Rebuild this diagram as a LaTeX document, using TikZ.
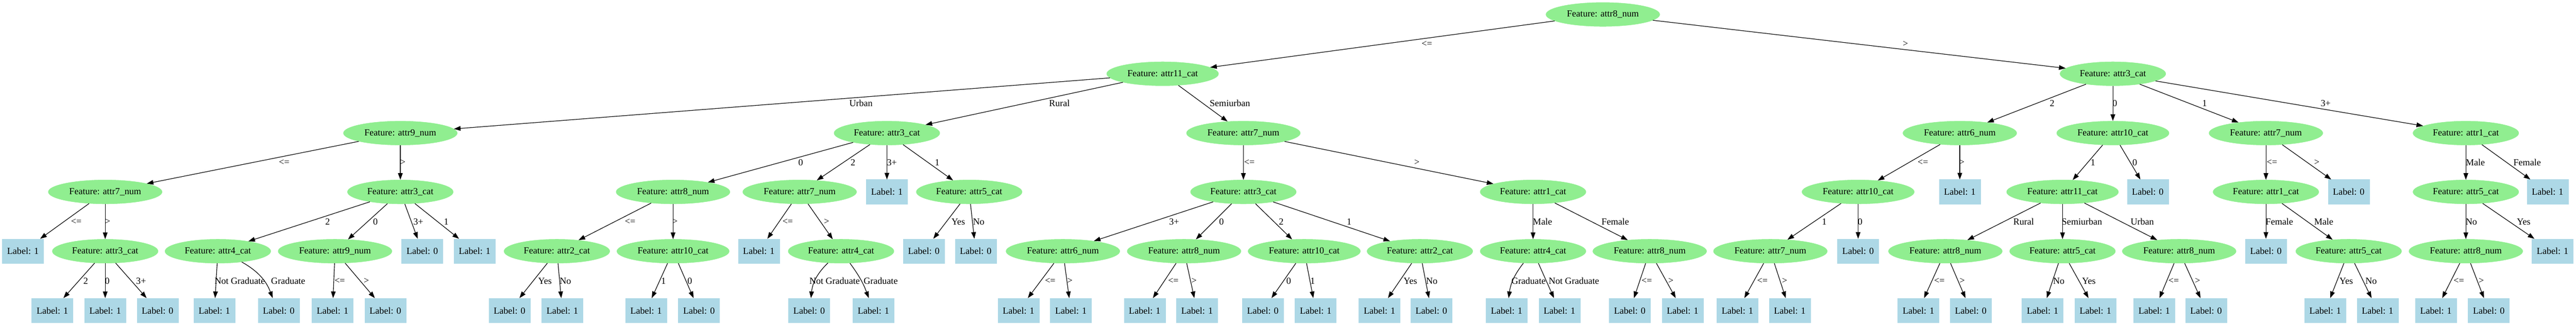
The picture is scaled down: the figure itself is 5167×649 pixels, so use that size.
\documentclass[tikz,border=0pt]{standalone}
\usepackage{fontspec}
\setmainfont{Liberation Serif}
\usetikzlibrary{shapes.geometric,arrows.meta}
\definecolor{lgreen}{HTML}{90EE90}
\definecolor{lblue}{HTML}{ADD8E6}
\newcommand\tedge[5]{\draw[edge] (#1) -- (#2); \node[elab] (#1l#2) at (#4,#5) {#3};}
\newcommand\tedgeb[6]{\draw[edge] (#2) to[#1] (#3); \node[elab] (#2l#3) at (#5,#6) {#4};}
\begin{document}
\begin{tikzpicture}[x=0.75pt,y=-0.75pt,
  every node/.style={font=\fontsize{14pt}{16pt}\selectfont},
  feat/.style={ellipse, fill=lgreen, draw=lgreen, minimum height=36pt, inner xsep=6.5pt, inner ysep=0pt},
  leaf/.style={rectangle, fill=lblue, draw=lblue, minimum width=62pt, minimum height=37pt, inner sep=0pt},
  edge/.style={-{Triangle[length=10pt,width=7pt]}, line width=0.9pt, black},
  elab/.style={inner sep=0pt}]
\useasboundingbox (0,0) rectangle (5167,649);
% level 0
\node[feat] (r) at (3215,29) {Feature: attr8\_num};
% level 1
\node[feat] (a) at (2332,148) {Feature: attr11\_cat};
\node[feat] (b) at (4238,148) {Feature: attr3\_cat};
% level 2
\node[feat] (a1) at (803,267) {Feature: attr9\_num};
\node[feat] (a2) at (1779,267) {Feature: attr3\_cat};
\node[feat] (a3) at (2494,267) {Feature: attr7\_num};
\node[feat] (b1) at (3931,267) {Feature: attr6\_num};
\node[feat] (b2) at (4238,267) {Feature: attr10\_cat};
\node[feat] (b3) at (4545,267) {Feature: attr7\_num};
\node[feat] (b4) at (4946,267) {Feature: attr1\_cat};
% level 3
\node[feat] (a11) at (211,385) {Feature: attr7\_num};
\node[feat] (a12) at (803,385) {Feature: attr3\_cat};
\node[feat] (a21) at (1350,385) {Feature: attr8\_num};
\node[feat] (a22) at (1604,385) {Feature: attr7\_num};
\node[leaf] (a23) at (1779,385) {Label: 1};
\node[feat] (a24) at (1944,385) {Feature: attr5\_cat};
\node[feat] (a31) at (2494,385) {Feature: attr3\_cat};
\node[feat] (a32) at (3075,385) {Feature: attr1\_cat};
\node[feat] (b11) at (3727,385) {Feature: attr10\_cat};
\node[leaf] (b12) at (3931,385) {Label: 1};
\node[feat] (b21) at (4137,385) {Feature: attr11\_cat};
\node[leaf] (b22) at (4308,385) {Label: 0};
\node[feat] (b31) at (4545,385) {Feature: attr1\_cat};
\node[leaf] (b32) at (4711,385) {Label: 0};
\node[feat] (b41) at (4946,385) {Feature: attr5\_cat};
\node[leaf] (b42) at (5110,385) {Label: 1};
% level 4
\node[leaf] (a111) at (46,504) {Label: 1};
\node[feat] (a112) at (211,504) {Feature: attr3\_cat};
\node[feat] (a121) at (437,504) {Feature: attr4\_cat};
\node[feat] (a122) at (672,504) {Feature: attr9\_num};
\node[leaf] (a123) at (847,504) {Label: 0};
\node[leaf] (a124) at (952,504) {Label: 1};
\node[feat] (a211) at (1117,504) {Feature: attr2\_cat};
\node[feat] (a212) at (1350,504) {Feature: attr10\_cat};
\node[leaf] (a221) at (1522,504) {Label: 1};
\node[feat] (a222) at (1687,504) {Feature: attr4\_cat};
\node[leaf] (a241) at (1853,504) {Label: 0};
\node[leaf] (a242) at (1957,504) {Label: 0};
\node[feat] (a311) at (2132,504) {Feature: attr6\_num};
\node[feat] (a312) at (2375,504) {Feature: attr8\_num};
\node[feat] (a313) at (2616,504) {Feature: attr10\_cat};
\node[feat] (a314) at (2848,504) {Feature: attr2\_cat};
\node[feat] (a321) at (3075,504) {Feature: attr4\_cat};
\node[feat] (a322) at (3309,504) {Feature: attr8\_num};
\node[feat] (b111) at (3551,504) {Feature: attr7\_num};
\node[leaf] (b112) at (3727,504) {Label: 0};
\node[feat] (b211) at (3902,504) {Feature: attr8\_num};
\node[feat] (b212) at (4137,504) {Feature: attr5\_cat};
\node[feat] (b213) at (4371,504) {Feature: attr8\_num};
\node[leaf] (b311) at (4545,504) {Label: 0};
\node[feat] (b312) at (4711,504) {Feature: attr5\_cat};
\node[feat] (b411) at (4946,504) {Feature: attr8\_num};
\node[leaf] (b412) at (5120,504) {Label: 1};
% level 5
\node[leaf] (a1121) at (105,623) {Label: 1};
\node[leaf] (a1122) at (211,623) {Label: 1};
\node[leaf] (a1123) at (316,623) {Label: 0};
\node[leaf] (a1211) at (430,623) {Label: 1};
\node[leaf] (a1212) at (559,623) {Label: 0};
\node[leaf] (a1221) at (667,623) {Label: 1};
\node[leaf] (a1222) at (773,623) {Label: 0};
\node[leaf] (a2111) at (1022,623) {Label: 0};
\node[leaf] (a2112) at (1128,623) {Label: 1};
\node[leaf] (a2121) at (1296,623) {Label: 1};
\node[leaf] (a2122) at (1402,623) {Label: 0};
\node[leaf] (a2221) at (1623,623) {Label: 0};
\node[leaf] (a2222) at (1752,623) {Label: 1};
\node[leaf] (a3111) at (2043,623) {Label: 1};
\node[leaf] (a3112) at (2148,623) {Label: 1};
\node[leaf] (a3121) at (2296,623) {Label: 1};
\node[leaf] (a3122) at (2401,623) {Label: 1};
\node[leaf] (a3131) at (2533,623) {Label: 0};
\node[leaf] (a3132) at (2639,623) {Label: 1};
\node[leaf] (a3141) at (2767,623) {Label: 1};
\node[leaf] (a3142) at (2871,623) {Label: 0};
\node[leaf] (a3211) at (3022,623) {Label: 1};
\node[leaf] (a3212) at (3128,623) {Label: 1};
\node[leaf] (a3221) at (3269,623) {Label: 0};
\node[leaf] (a3222) at (3375,623) {Label: 1};
\node[leaf] (b1111) at (3485,623) {Label: 1};
\node[leaf] (b1112) at (3590,623) {Label: 1};
\node[leaf] (b2111) at (3848,623) {Label: 1};
\node[leaf] (b2112) at (3953,623) {Label: 0};
\node[leaf] (b2121) at (4097,623) {Label: 1};
\node[leaf] (b2122) at (4203,623) {Label: 1};
\node[leaf] (b2131) at (4321,623) {Label: 1};
\node[leaf] (b2132) at (4425,623) {Label: 0};
\node[leaf] (b3121) at (4664,623) {Label: 1};
\node[leaf] (b3122) at (4769,623) {Label: 1};
\node[leaf] (b4111) at (4886,623) {Label: 1};
\node[leaf] (b4112) at (4992,623) {Label: 0};
% edges level 0-1
\tedge{r}{a}{<=}{2862}{88.5}
\tedge{r}{b}{>}{3822}{88.5}
% level 1-2
\tedge{a}{a1}{Urban}{1727}{207.5}
\tedge{a}{a2}{Rural}{2125}{207.5}
\tedge{a}{a3}{Semiurban}{2467}{207.5}
\tedge{b}{b1}{2}{4116}{207.5}
\tedge{b}{b2}{0}{4242}{207.5}
\tedge{b}{b3}{1}{4422}{207.5}
\tedge{b}{b4}{3+}{4665}{207.5}
% level 2-3
\tedge{a1}{a11}{<=}{570}{326}
\tedge{a1}{a12}{>}{808}{326}
\tedge{a2}{a21}{0}{1606}{326}
\tedge{a2}{a22}{2}{1711}{326}
\tedge{a2}{a23}{3+}{1789}{326}
\tedge{a2}{a24}{1}{1880}{326}
\tedge{a3}{a31}{<=}{2506}{326}
\tedge{a3}{a32}{>}{2842}{326}
\tedge{b1}{b11}{<=}{3857}{326}
\tedge{b1}{b12}{>}{3935}{326}
\tedge{b2}{b21}{1}{4198}{326}
\tedge{b2}{b22}{0}{4282}{326}
\tedge{b3}{b31}{<=}{4557}{326}
\tedge{b3}{b32}{>}{4647}{326}
\tedge{b4}{b41}{Male}{4965}{326}
\tedge{b4}{b42}{Female}{5069}{326}
% level 3-4
\tedge{a11}{a111}{<=}{153}{445}
\tedge{a11}{a112}{>}{216}{445}
\tedge{a12}{a121}{2}{657}{445}
\tedge{a12}{a122}{0}{753}{445}
\tedge{a12}{a123}{3+}{839}{445}
\tedge{a12}{a124}{1}{895}{445}
\tedge{a21}{a211}{<=}{1264}{445}
\tedge{a21}{a212}{>}{1354}{445}
\tedge{a22}{a221}{<=}{1580}{445}
\tedge{a22}{a222}{>}{1658}{445}
\tedge{a24}{a241}{Yes}{1922}{445}
\tedge{a24}{a242}{No}{1963}{445}
\tedge{a31}{a311}{3+}{2355}{445}
\tedge{a31}{a312}{0}{2450}{445}
\tedge{a31}{a313}{2}{2570}{445}
\tedge{a31}{a314}{1}{2706}{445}
\tedge{a32}{a321}{Male}{3094}{445}
\tedge{a32}{a322}{Female}{3240}{445}
\tedge{b11}{b111}{1}{3659}{445}
\tedge{b11}{b112}{0}{3731}{445}
\tedge{b21}{b211}{Rural}{4059}{445}
\tedge{b21}{b212}{Semiurban}{4176}{445}
\tedge{b21}{b213}{Urban}{4297}{445}
\tedge{b31}{b311}{Female}{4572}{445}
\tedge{b31}{b312}{Male}{4661}{445}
\tedge{b41}{b411}{No}{4957}{445}
\tedge{b41}{b412}{Yes}{5062}{445}
% level 4-5
\tedge{a112}{a1121}{2}{172}{564}
\tedge{a112}{a1122}{0}{215}{564}
\tedge{a112}{a1123}{3+}{283}{564}
\tedge{a121}{a1211}{Not Graduate}{481}{564}
\tedgeb{bend left=20}{a121}{a1212}{Graduate}{578}{564}
\tedge{a122}{a1221}{<=}{681.5}{564}
\tedge{a122}{a1222}{>}{735}{564}
\tedge{a211}{a2111}{Yes}{1093}{564}
\tedge{a211}{a2112}{No}{1134}{564}
\tedge{a212}{a2121}{1}{1331}{564}
\tedge{a212}{a2122}{0}{1383.5}{564}
\tedgeb{bend right=20}{a222}{a2221}{Not Graduate}{1674}{564}
\tedgeb{bend left=8}{a222}{a2222}{Graduate}{1766.5}{564}
\tedge{a311}{a3111}{<=}{2106.5}{564}
\tedge{a311}{a3112}{>}{2146}{564}
\tedge{a312}{a3121}{<=}{2353.5}{564}
\tedge{a312}{a3122}{>}{2395}{564}
\tedge{a313}{a3131}{0}{2585}{564}
\tedge{a313}{a3132}{1}{2633}{564}
\tedge{a314}{a3141}{Yes}{2829}{564}
\tedge{a314}{a3142}{No}{2872}{564}
\tedgeb{bend right=15}{a321}{a3211}{Graduate}{3066}{564}
\tedge{a321}{a3212}{Not Graduate}{3157}{564}
\tedge{a322}{a3221}{<=}{3303}{564}
\tedge{a322}{a3222}{>}{3351.5}{564}
\tedge{b111}{b1111}{<=}{3535}{564}
\tedge{b111}{b1112}{>}{3579.5}{564}
\tedge{b211}{b2111}{<=}{3890}{564}
\tedge{b211}{b2112}{>}{3936}{564}
\tedge{b212}{b2121}{No}{4129.5}{564}
\tedge{b212}{b2122}{Yes}{4190}{564}
\tedge{b213}{b2131}{<=}{4360}{564}
\tedge{b213}{b2132}{>}{4408}{564}
\tedge{b312}{b3121}{Yes}{4706}{564}
\tedge{b312}{b3122}{No}{4756}{564}
\tedge{b411}{b4111}{<=}{4932}{564}
\tedge{b411}{b4112}{>}{4977}{564}
\end{tikzpicture}
\end{document}
